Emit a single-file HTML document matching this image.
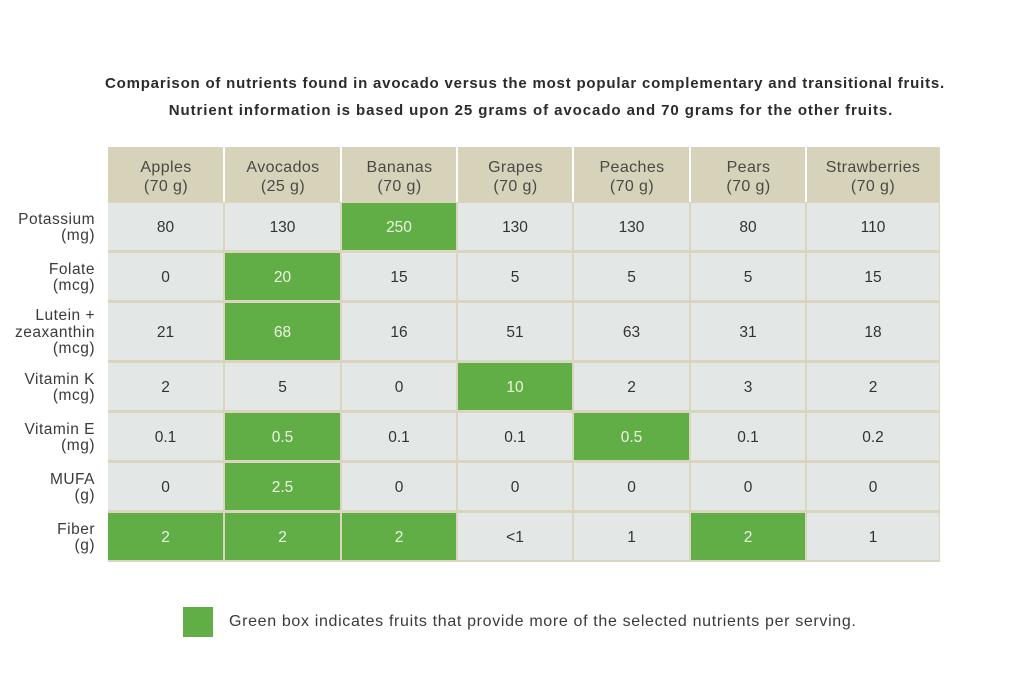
<!DOCTYPE html>
<html><head><meta charset="utf-8"><style>
html,body{margin:0;padding:0;background:#fff;}
body{width:1024px;height:693px;position:relative;overflow:hidden;font-family:"Liberation Sans",sans-serif;}
.t{position:absolute;left:0;width:1050px;text-align:center;font-weight:bold;font-size:15px;line-height:17px;color:#2b2b2b;letter-spacing:0.8px;white-space:nowrap;}
.grid{position:absolute;left:108px;top:147px;width:832px;height:415px;background:#d9d5bf;}
.c{position:absolute;display:flex;align-items:center;justify-content:center;text-align:center;font-size:15.5px;color:#333;background:#e3e8e6;box-sizing:border-box;padding-top:3px;}
.h{background:#d6d3ba;color:#4a4a44;font-size:16px;line-height:19px;letter-spacing:0.4px;padding-top:4px;}
.g{background:#62ae46;color:#eaf5e2;}
.l{position:absolute;right:929px;width:120px;text-align:right;font-size:15.5px;line-height:16.5px;letter-spacing:0.5px;color:#3a3a3a;display:flex;align-items:center;justify-content:flex-end;box-sizing:border-box;padding-top:2px;}
.wl{position:absolute;top:147px;height:55px;width:2px;background:#fff;}
</style></head><body>
<div class="t" style="top:75px;">Comparison of nutrients found in avocado versus the most popular complementary and transitional fruits.</div>
<div class="t" style="top:102px;left:6px;letter-spacing:0.93px;">Nutrient information is based upon 25 grams of avocado and 70 grams for the other fruits.</div>

<div class="grid"></div>

<!-- header -->
<div class="c h" style="left:108px;top:147px;width:116px;height:55px;">Apples<br>(70 g)</div>
<div class="c h" style="left:225px;top:147px;width:116px;height:55px;">Avocados<br>(25 g)</div>
<div class="c h" style="left:342px;top:147px;width:115px;height:55px;">Bananas<br>(70 g)</div>
<div class="c h" style="left:458px;top:147px;width:115px;height:55px;">Grapes<br>(70 g)</div>
<div class="c h" style="left:574px;top:147px;width:116px;height:55px;">Peaches<br>(70 g)</div>
<div class="c h" style="left:691px;top:147px;width:115px;height:55px;">Pears<br>(70 g)</div>
<div class="c h" style="left:807px;top:147px;width:132px;height:55px;">Strawberries<br>(70 g)</div>
<div class="wl" style="left:223px;"></div>
<div class="wl" style="left:340px;"></div>
<div class="wl" style="left:456px;"></div>
<div class="wl" style="left:572px;"></div>
<div class="wl" style="left:689px;"></div>
<div class="wl" style="left:805px;"></div>

<!-- labels -->
<div class="l" style="top:203px;height:48px;">Potassium<br>(mg)</div>
<div class="l" style="top:253px;height:48px;">Folate<br>(mcg)</div>
<div class="l" style="top:303px;height:58px;">Lutein +<br>zeaxanthin<br>(mcg)</div>
<div class="l" style="top:363px;height:48px;">Vitamin K<br>(mcg)</div>
<div class="l" style="top:413px;height:48px;">Vitamin E<br>(mg)</div>
<div class="l" style="top:463px;height:48px;">MUFA<br>(g)</div>
<div class="l" style="top:513px;height:48px;">Fiber<br>(g)</div>

<!-- row 1 -->
<div class="c" style="left:108px;top:203px;width:115px;height:47px;">80</div>
<div class="c" style="left:225px;top:203px;width:115px;height:47px;">130</div>
<div class="c g" style="left:342px;top:203px;width:114px;height:47px;">250</div>
<div class="c" style="left:458px;top:203px;width:114px;height:47px;">130</div>
<div class="c" style="left:574px;top:203px;width:115px;height:47px;">130</div>
<div class="c" style="left:691px;top:203px;width:114px;height:47px;">80</div>
<div class="c" style="left:807px;top:203px;width:132px;height:47px;">110</div>
<!-- row 2 -->
<div class="c" style="left:108px;top:253px;width:115px;height:47px;">0</div>
<div class="c g" style="left:225px;top:253px;width:115px;height:47px;">20</div>
<div class="c" style="left:342px;top:253px;width:114px;height:47px;">15</div>
<div class="c" style="left:458px;top:253px;width:114px;height:47px;">5</div>
<div class="c" style="left:574px;top:253px;width:115px;height:47px;">5</div>
<div class="c" style="left:691px;top:253px;width:114px;height:47px;">5</div>
<div class="c" style="left:807px;top:253px;width:132px;height:47px;">15</div>
<!-- row 3 -->
<div class="c" style="left:108px;top:303px;width:115px;height:57px;">21</div>
<div class="c g" style="left:225px;top:303px;width:115px;height:57px;">68</div>
<div class="c" style="left:342px;top:303px;width:114px;height:57px;">16</div>
<div class="c" style="left:458px;top:303px;width:114px;height:57px;">51</div>
<div class="c" style="left:574px;top:303px;width:115px;height:57px;">63</div>
<div class="c" style="left:691px;top:303px;width:114px;height:57px;">31</div>
<div class="c" style="left:807px;top:303px;width:132px;height:57px;">18</div>
<!-- row 4 -->
<div class="c" style="left:108px;top:363px;width:115px;height:47px;">2</div>
<div class="c" style="left:225px;top:363px;width:115px;height:47px;">5</div>
<div class="c" style="left:342px;top:363px;width:114px;height:47px;">0</div>
<div class="c g" style="left:458px;top:363px;width:114px;height:47px;">10</div>
<div class="c" style="left:574px;top:363px;width:115px;height:47px;">2</div>
<div class="c" style="left:691px;top:363px;width:114px;height:47px;">3</div>
<div class="c" style="left:807px;top:363px;width:132px;height:47px;">2</div>
<!-- row 5 -->
<div class="c" style="left:108px;top:413px;width:115px;height:47px;">0.1</div>
<div class="c g" style="left:225px;top:413px;width:115px;height:47px;">0.5</div>
<div class="c" style="left:342px;top:413px;width:114px;height:47px;">0.1</div>
<div class="c" style="left:458px;top:413px;width:114px;height:47px;">0.1</div>
<div class="c g" style="left:574px;top:413px;width:115px;height:47px;">0.5</div>
<div class="c" style="left:691px;top:413px;width:114px;height:47px;">0.1</div>
<div class="c" style="left:807px;top:413px;width:132px;height:47px;">0.2</div>
<!-- row 6 -->
<div class="c" style="left:108px;top:463px;width:115px;height:47px;">0</div>
<div class="c g" style="left:225px;top:463px;width:115px;height:47px;">2.5</div>
<div class="c" style="left:342px;top:463px;width:114px;height:47px;">0</div>
<div class="c" style="left:458px;top:463px;width:114px;height:47px;">0</div>
<div class="c" style="left:574px;top:463px;width:115px;height:47px;">0</div>
<div class="c" style="left:691px;top:463px;width:114px;height:47px;">0</div>
<div class="c" style="left:807px;top:463px;width:132px;height:47px;">0</div>
<!-- row 7 -->
<div class="c g" style="left:108px;top:513px;width:115px;height:47px;">2</div>
<div class="c g" style="left:225px;top:513px;width:115px;height:47px;">2</div>
<div class="c g" style="left:342px;top:513px;width:114px;height:47px;">2</div>
<div class="c" style="left:458px;top:513px;width:114px;height:47px;">&lt;1</div>
<div class="c" style="left:574px;top:513px;width:115px;height:47px;">1</div>
<div class="c g" style="left:691px;top:513px;width:114px;height:47px;">2</div>
<div class="c" style="left:807px;top:513px;width:132px;height:47px;">1</div>

<!-- legend -->
<div style="position:absolute;left:183px;top:607px;width:30px;height:30px;background:#62ae46;"></div>
<div style="position:absolute;left:229px;top:613px;font-size:16px;letter-spacing:0.66px;color:#3a3a3a;white-space:nowrap;">Green box indicates fruits that provide more of the selected nutrients per serving.</div>
</body></html>
